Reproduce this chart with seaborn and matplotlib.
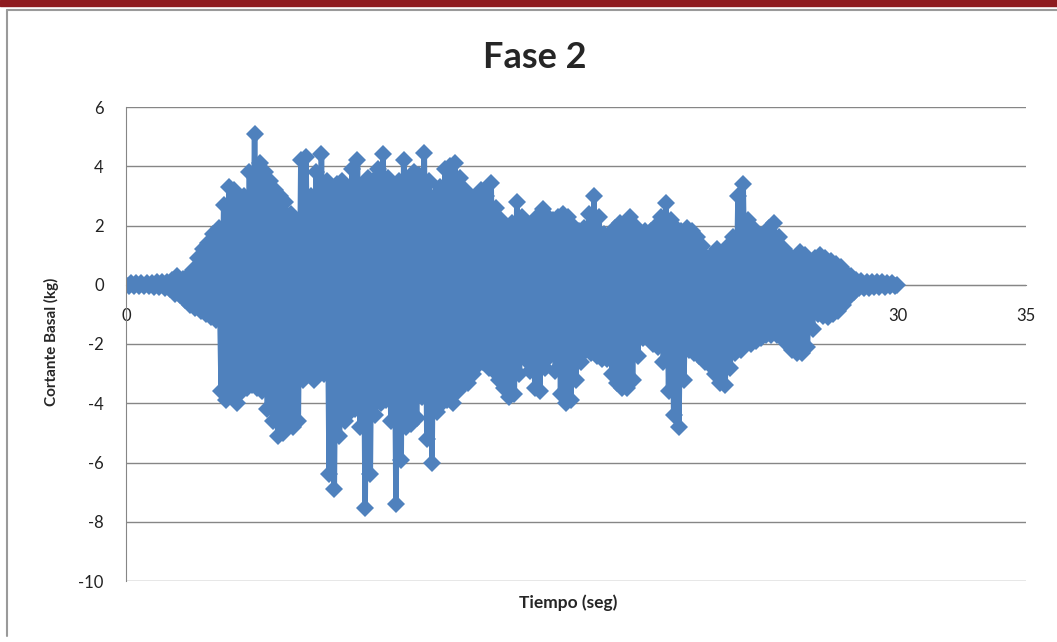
import numpy as np
import pandas as pd
import matplotlib
matplotlib.use('Agg')
import matplotlib.pyplot as plt
import seaborn as sns
from matplotlib.patches import Rectangle
from matplotlib.lines import Line2D

# picos positivos (t = 0, 0.2, ..., 30.0)
picos_pos = [0.0, 0.05, 0.05, 0.05, 0.05, 0.05, 0.08, 0.08, 0.1, 0.15,
             0.3, 0.2, 0.3, 0.5, 0.9, 1.2, 1.4, 1.7, 1.9, 2.7,
             3.3, 3.2, 2.9, 3.0, 3.8, 5.1, 4.1, 3.8, 3.5, 3.2,
             3.0, 2.8, 2.4, 2.1, 4.2, 4.3, 3.0, 3.8, 4.4, 3.5,
             3.2, 3.4, 3.5, 3.3, 3.9, 4.2, 3.4, 3.6, 3.5, 3.9,
             4.4, 3.6, 3.3, 3.5, 4.2, 3.6, 3.8, 3.7, 4.45, 3.5,
             3.0, 3.3, 3.9, 4.0, 4.1, 3.6, 3.2, 2.9, 3.0, 3.2,
             3.0, 3.45, 2.6, 2.2, 1.9, 2.1, 2.8, 2.3, 1.9, 2.1,
             2.3, 2.55, 2.3, 2.2, 2.3, 2.4, 2.3, 2.0, 1.8, 1.9,
             2.4, 3.0, 2.3, 1.7, 1.6, 1.9, 2.1, 1.9, 2.3, 2.0,
             1.7, 1.8, 1.8, 2.0, 2.3, 2.75, 2.2, 1.9, 1.8, 1.9,
             1.8, 1.6, 1.3, 0.9, 1.0, 1.2, 1.1, 1.3, 1.6, 3.0,
             3.4, 2.2, 1.9, 1.6, 1.7, 1.9, 2.1, 1.6, 1.2, 1.0,
             0.9, 1.1, 1.0, 0.8, 0.9, 1.0, 0.9, 0.8, 0.7, 0.6,
             0.4, 0.3, 0.15, 0.12, 0.1, 0.1, 0.1, 0.08, 0.05, 0.05,
             0.0]

# picos negativos (t = 0.1, 0.3, ..., 29.9)
picos_neg = [-0.03, -0.05, -0.05, -0.05, -0.05, -0.06, -0.08, -0.1, -0.15, -0.3,
             -0.35, -0.5, -0.7, -0.8, -0.9, -1.0, -1.1, -1.2, -3.6, -3.9,
             -3.7, -4.0, -3.6, -3.5, -3.4, -3.5, -3.6, -4.2, -4.6, -5.1,
             -5.0, -4.6, -4.8, -4.6, -3.2, -3.0, -3.2, -2.8, -3.0, -6.4,
             -6.9, -5.1, -4.6, -4.3, -4.2, -4.8, -7.55, -6.4, -4.4, -4.0,
             -3.9, -4.6, -7.4, -5.9, -4.8, -4.7, -4.5, -3.8, -5.2, -6.0,
             -4.3, -4.0, -3.9, -4.0, -3.6, -3.4, -3.3, -3.0, -2.7, -2.6,
             -2.8, -2.9, -3.2, -3.5, -3.8, -3.7, -3.0, -2.5, -2.9, -3.5,
             -3.6, -2.8, -2.4, -2.9, -3.7, -4.0, -3.9, -3.2, -2.6, -2.2,
             -2.3, -2.4, -2.5, -2.5, -3.0, -3.3, -3.5, -3.5, -3.2, -2.4,
             -1.8, -1.75, -2.0, -2.1, -2.6, -3.6, -4.4, -4.8, -3.2, -2.2,
             -2.3, -2.4, -2.6, -2.7, -3.0, -3.3, -3.4, -2.8, -2.3, -2.2,
             -2.0, -2.0, -1.9, -1.8, -1.7, -1.7, -1.7, -1.8, -2.0, -2.2,
             -2.3, -2.3, -2.1, -1.5, -1.0, -1.05, -1.1, -1.0, -0.9, -0.7,
             -0.4, -0.25, -0.12, -0.1, -0.1, -0.08, -0.08, -0.06, -0.05, -0.03]

x_ticks = [0, 5, 10, 15, 20, 25, 30, 35]
y_ticks = [-10, -8, -6, -4, -2, 0, 2, 4, 6]

tiempo = np.round(np.arange(0, 30.05, 0.1), 1)
cortante = []
for i in range(len(picos_neg)):
    cortante.append(picos_pos[i])
    cortante.append(picos_neg[i])
cortante.append(picos_pos[-1])

df = pd.DataFrame({'Tiempo': tiempo, 'Cortante': cortante})

sns.set_style('white')
plt.rcParams['font.family'] = ['Lato', 'DejaVu Sans']
plt.rcParams['axes.unicode_minus'] = False

azul = '#4F81BD'
gris = '#868686'

fig = plt.figure(figsize=(10.57, 6.42), dpi=100)
ax = fig.add_axes([126 / 1057, 1 - 581 / 642, 900 / 1057, 474 / 642])

sns.lineplot(data=df, x='Tiempo', y='Cortante', ax=ax, sort=False, estimator=None,
             color=azul, linewidth=4, marker='D', markersize=9.5,
             markeredgecolor=azul, markeredgewidth=0)

ax.set_xlim(0, 35)
ax.set_ylim(-10, 6)
ax.set_xticks(x_ticks)
ax.set_yticks(y_ticks)
ax.yaxis.grid(True, color=gris, linewidth=1)
ax.xaxis.grid(False)
ax.set_axisbelow(True)

for s in ['top', 'right']:
    ax.spines[s].set_visible(False)
ax.spines['bottom'].set_position(('data', 0))
ax.spines['bottom'].set_color(gris)
ax.spines['left'].set_color(gris)
ax.spines['bottom'].set_zorder(0.5)

ax.tick_params(axis='x', direction='out', length=5, color=gris, pad=12,
               labelsize=12, labelcolor='#222222')
ax.tick_params(axis='y', direction='out', length=7, color=gris, pad=9,
               labelsize=12, labelcolor='#222222')
ax.set_xlabel('')
ax.set_ylabel('')

fig.text(535 / 1057, 1 - 57 / 642, 'Fase 2', ha='center', va='center',
         fontsize=26, fontweight='bold')
fig.text(568 / 1057, 1 - 603 / 642, 'Tiempo (seg)', ha='center', va='center',
         fontsize=12.5, fontweight='bold')
fig.text(51 / 1057, 1 - 342 / 642, 'Cortante Basal (kg)', ha='center', va='center',
         rotation=90, fontsize=11, fontweight='bold')

# marco de la diapositiva
fig.patches.append(Rectangle((0, 1 - 6 / 642), 1, 6 / 642, transform=fig.transFigure,
                             color='#8E1B1F', zorder=5))
fig.lines.append(Line2D([7 / 1057, 1], [1 - 10 / 642, 1 - 10 / 642],
                        transform=fig.transFigure, color='#9a9a9a', linewidth=1.5))
fig.lines.append(Line2D([7 / 1057, 7 / 1057], [1 - 10 / 642, 1 - 636 / 642],
                        transform=fig.transFigure, color='#9a9a9a', linewidth=1.5))

fig.savefig('out.png', dpi=100)
